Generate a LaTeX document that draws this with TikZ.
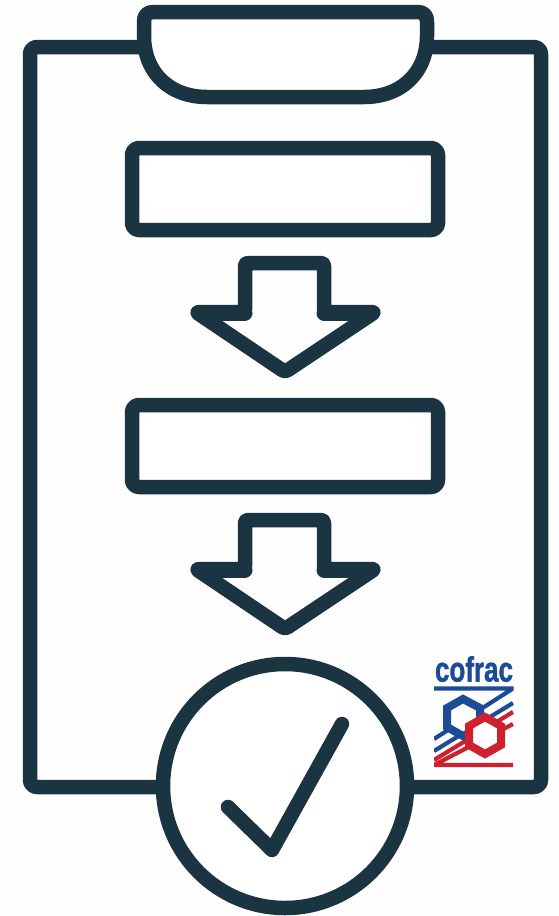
\documentclass[tikz,border=0pt]{standalone}
\usepackage{graphicx}
\usepackage{fontspec}
\setmainfont{Liberation Sans}[BoldFeatures={FakeBold=1.5}]
\definecolor{ink}{HTML}{1A3442}
\definecolor{cofblue}{HTML}{1C4C96}
\definecolor{cofred}{HTML}{D0202E}
\tikzset{
  icon/.style={draw=ink,line width=14.5pt,line join=round,line cap=round,rounded corners=7pt},
  iconfill/.style={icon,fill=white},
  blueln/.style={draw=cofblue,line width=4.2pt},
  redln/.style={draw=cofred,line width=4.2pt},
}
\begin{document}
\begin{tikzpicture}[x=1pt,y=-1pt]
\useasboundingbox (0,0) rectangle (559,916);
\fill[white!99.5!blue] (0,0) rectangle (559,916);
% board
\draw[icon] (140,47) -- (30,47) -- (30,787) -- (541,787) -- (541,47) -- (430,47);
% clip
\draw[iconfill,rounded corners=0pt] (154,12) -- (417,12) .. controls (424,12) and (427,15) .. (427,22)
  -- (427,36) .. controls (427,72) and (402,97) .. (364,97) -- (207,97)
  .. controls (169,97) and (144,72) .. (144,36) -- (144,22) .. controls (144,15) and (147,12) .. (154,12) -- cycle;
% boxes
\draw[iconfill] (132,148) rectangle (438,230);
\draw[iconfill] (132,405) rectangle (438,487);
% arrows
\foreach \dy in {0,257}{
  \begin{scope}[yshift=-\dy pt]
  \draw[icon,rounded corners=3pt] (245,312) -- (245,263) -- (324,263) -- (324,312) -- (375,312) -- (285,372) -- (196,312) -- cycle;
  \draw[draw=ink,line width=15pt,line cap=round] (200,313) -- (245,313) (324,313) -- (371,313);
  \end{scope}
}
% seal
\node (seal) [circle,draw=ink,line width=14.5pt,fill=white,minimum size=244pt,inner sep=0pt] at (285,786) {};
\draw[draw=ink,line width=14.5pt,line cap=round,line join=round] (228,807) -- (272,850) -- (342,724);
% logo
\fill[white] (426,652) rectangle (516,772);
\begin{scope}
\clip (434,680) rectangle (513.5,772);
\draw[blueln] (434,688.5) -- (513,688.5) -- (434,739);
\draw[blueln] (513,703) -- (434,751);
\draw[redln] (513,712) -- (434,760);
\draw[redln] (513,724) -- (434,765) -- (513,765);
\draw[draw=cofblue,line width=8pt,fill=white,line join=miter]
  (463,699) -- (480,708) -- (480,727) -- (463,736) -- (447,727) -- (447,708) -- cycle;
\draw[draw=cofred,line width=8pt,fill=white,line join=miter]
  (485,717) -- (501,726) -- (501,745) -- (485,754) -- (469,745) -- (469,726) -- cycle;
\end{scope}
\node (cofrac) [text=cofblue,font=\bfseries,inner sep=0pt,anchor=center] at (474,669) {\scalebox{1.0}[1.35]{\fontsize{26}{26}\selectfont cofrac}};
\end{tikzpicture}
\end{document}
